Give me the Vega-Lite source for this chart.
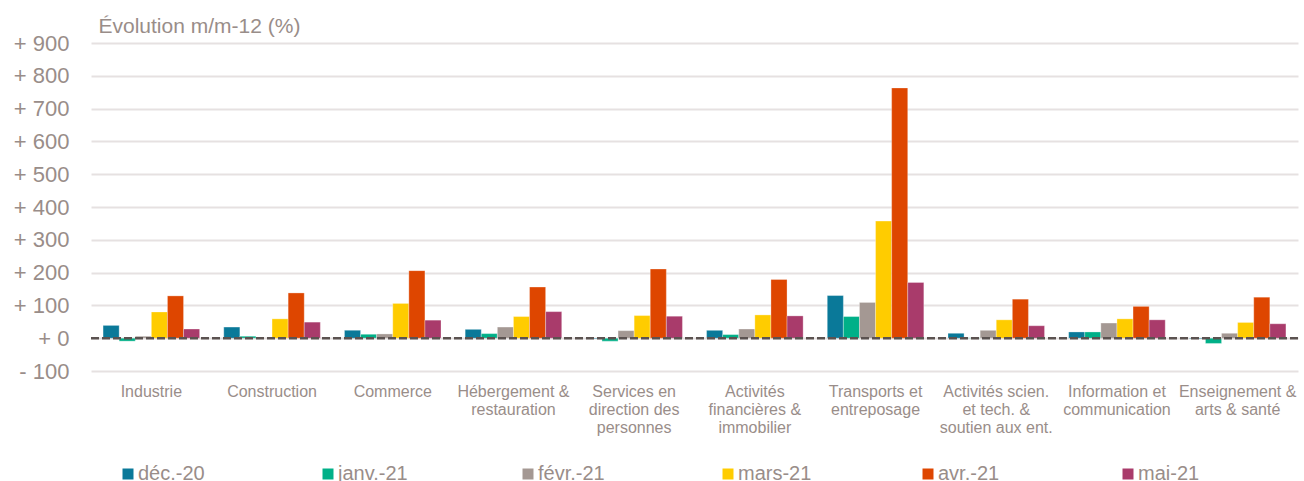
{
  "$schema": "https://vega.github.io/schema/vega-lite/v6.json",
  "width": 1207,
  "height": 328,
  "autosize": {"type": "none"},
  "padding": {"left": 91, "top": 43, "right": 6, "bottom": 110},
  "background": "#ffffff",
  "config": {
    "font": "Liberation Sans",
    "view": {"stroke": null}
  },
  "data": {
    "values": [
      {"secteur": "Industrie", "mois": "déc.-20", "valeur": 39},
      {"secteur": "Industrie", "mois": "janv.-21", "valeur": -9},
      {"secteur": "Industrie", "mois": "févr.-21", "valeur": 6},
      {"secteur": "Industrie", "mois": "mars-21", "valeur": 80},
      {"secteur": "Industrie", "mois": "avr.-21", "valeur": 129},
      {"secteur": "Industrie", "mois": "mai-21", "valeur": 28},
      {"secteur": "Construction", "mois": "déc.-20", "valeur": 34},
      {"secteur": "Construction", "mois": "janv.-21", "valeur": 6},
      {"secteur": "Construction", "mois": "févr.-21", "valeur": 1},
      {"secteur": "Construction", "mois": "mars-21", "valeur": 59},
      {"secteur": "Construction", "mois": "avr.-21", "valeur": 138},
      {"secteur": "Construction", "mois": "mai-21", "valeur": 49},
      {"secteur": "Commerce", "mois": "déc.-20", "valeur": 24},
      {"secteur": "Commerce", "mois": "janv.-21", "valeur": 12},
      {"secteur": "Commerce", "mois": "févr.-21", "valeur": 13},
      {"secteur": "Commerce", "mois": "mars-21", "valeur": 106},
      {"secteur": "Commerce", "mois": "avr.-21", "valeur": 206},
      {"secteur": "Commerce", "mois": "mai-21", "valeur": 55},
      {"secteur": "Hébergement & restauration", "mois": "déc.-20", "valeur": 27},
      {"secteur": "Hébergement & restauration", "mois": "janv.-21", "valeur": 14},
      {"secteur": "Hébergement & restauration", "mois": "févr.-21", "valeur": 34},
      {"secteur": "Hébergement & restauration", "mois": "mars-21", "valeur": 66},
      {"secteur": "Hébergement & restauration", "mois": "avr.-21", "valeur": 156},
      {"secteur": "Hébergement & restauration", "mois": "mai-21", "valeur": 81},
      {"secteur": "Services en direction des personnes", "mois": "déc.-20", "valeur": -2},
      {"secteur": "Services en direction des personnes", "mois": "janv.-21", "valeur": -9},
      {"secteur": "Services en direction des personnes", "mois": "févr.-21", "valeur": 23},
      {"secteur": "Services en direction des personnes", "mois": "mars-21", "valeur": 69},
      {"secteur": "Services en direction des personnes", "mois": "avr.-21", "valeur": 211},
      {"secteur": "Services en direction des personnes", "mois": "mai-21", "valeur": 67},
      {"secteur": "Activités financières & immobilier", "mois": "déc.-20", "valeur": 24},
      {"secteur": "Activités financières & immobilier", "mois": "janv.-21", "valeur": 11},
      {"secteur": "Activités financières & immobilier", "mois": "févr.-21", "valeur": 28},
      {"secteur": "Activités financières & immobilier", "mois": "mars-21", "valeur": 71},
      {"secteur": "Activités financières & immobilier", "mois": "avr.-21", "valeur": 179},
      {"secteur": "Activités financières & immobilier", "mois": "mai-21", "valeur": 68},
      {"secteur": "Transports et entreposage", "mois": "déc.-20", "valeur": 130},
      {"secteur": "Transports et entreposage", "mois": "janv.-21", "valeur": 66},
      {"secteur": "Transports et entreposage", "mois": "févr.-21", "valeur": 109},
      {"secteur": "Transports et entreposage", "mois": "mars-21", "valeur": 357},
      {"secteur": "Transports et entreposage", "mois": "avr.-21", "valeur": 763},
      {"secteur": "Transports et entreposage", "mois": "mai-21", "valeur": 170},
      {"secteur": "Activités scien. et tech. & soutien aux ent.", "mois": "déc.-20", "valeur": 15},
      {"secteur": "Activités scien. et tech. & soutien aux ent.", "mois": "janv.-21", "valeur": 1},
      {"secteur": "Activités scien. et tech. & soutien aux ent.", "mois": "févr.-21", "valeur": 24},
      {"secteur": "Activités scien. et tech. & soutien aux ent.", "mois": "mars-21", "valeur": 56},
      {"secteur": "Activités scien. et tech. & soutien aux ent.", "mois": "avr.-21", "valeur": 119},
      {"secteur": "Activités scien. et tech. & soutien aux ent.", "mois": "mai-21", "valeur": 38},
      {"secteur": "Information et communication", "mois": "déc.-20", "valeur": 19},
      {"secteur": "Information et communication", "mois": "janv.-21", "valeur": 19},
      {"secteur": "Information et communication", "mois": "févr.-21", "valeur": 46},
      {"secteur": "Information et communication", "mois": "mars-21", "valeur": 59},
      {"secteur": "Information et communication", "mois": "avr.-21", "valeur": 97},
      {"secteur": "Information et communication", "mois": "mai-21", "valeur": 56},
      {"secteur": "Enseignement & arts & santé", "mois": "déc.-20", "valeur": -2},
      {"secteur": "Enseignement & arts & santé", "mois": "janv.-21", "valeur": -16},
      {"secteur": "Enseignement & arts & santé", "mois": "févr.-21", "valeur": 15},
      {"secteur": "Enseignement & arts & santé", "mois": "mars-21", "valeur": 48},
      {"secteur": "Enseignement & arts & santé", "mois": "avr.-21", "valeur": 125},
      {"secteur": "Enseignement & arts & santé", "mois": "mai-21", "valeur": 44}
    ]
  },
  "encoding": {
    "y": {
      "field": "valeur",
      "type": "quantitative",
      "scale": {"domain": [-100, 900], "nice": false, "zero": true},
      "axis": {
        "title": "Évolution m/m-12 (%)",
        "titleAngle": 0,
        "titleX": 7,
        "titleY": -11,
        "titleAlign": "left",
        "titleBaseline": "alphabetic",
        "titleFontSize": 21,
        "titleFontWeight": "normal",
        "titleColor": "#998D89",
        "tickCount": 10,
        "labelExpr": "(datum.value >= 0 ? '+ ' : '- ') + abs(datum.value)",
        "labelFontSize": 22,
        "labelColor": "#998D89",
        "labelPadding": 22,
        "labelOverlap": false,
        "labelBound": false,
        "domain": false,
        "ticks": false,
        "grid": true,
        "gridColor": "#E6E1E1",
        "gridWidth": 2
      }
    }
  },
  "layer": [
    {
      "mark": {"type": "bar", "stroke": "#ffffff", "strokeWidth": 0.5, "strokeOpacity": 0.6},
      "encoding": {
        "x": {
          "field": "secteur",
          "type": "nominal",
          "sort": null,
          "scale": {"paddingInner": 0.2, "paddingOuter": 0.1},
          "axis": {
            "title": null,
            "domain": false,
            "ticks": false,
            "labelAngle": 0,
            "labelFontSize": 16,
            "labelColor": "#998D89",
            "labelPadding": 25,
            "labelBaseline": "alphabetic",
            "labelLineHeight": 18,
            "labelLimit": 0,
            "labelOverlap": false,
            "labelExpr": "datum.value == 'Hébergement & restauration' ? ['Hébergement &', 'restauration'] : datum.value == 'Services en direction des personnes' ? ['Services en', 'direction des', 'personnes'] : datum.value == 'Activités financières & immobilier' ? ['Activités', 'financières &', 'immobilier'] : datum.value == 'Transports et entreposage' ? ['Transports et', 'entreposage'] : datum.value == 'Activités scien. et tech. & soutien aux ent.' ? ['Activités scien.', 'et tech. &', 'soutien aux ent.'] : datum.value == 'Information et communication' ? ['Information et', 'communication'] : datum.value == 'Enseignement & arts & santé' ? ['Enseignement &', 'arts & santé'] : datum.value"
          }
        },
        "xOffset": {
          "field": "mois",
          "type": "nominal",
          "sort": ["déc.-20", "janv.-21", "févr.-21", "mars-21", "avr.-21", "mai-21"],
          "scale": {"paddingInner": 0, "paddingOuter": 0}
        },
        "color": {
          "field": "mois",
          "type": "nominal",
          "scale": {
            "domain": ["déc.-20", "janv.-21", "févr.-21", "mars-21", "avr.-21", "mai-21"],
            "range": ["#0A7999", "#00B088", "#A49893", "#FFCC00", "#DE4600", "#A93B6B"]
          },
          "legend": {
            "title": null,
            "orient": "none",
            "legendX": 27,
            "legendY": 421,
            "direction": "horizontal",
            "columns": 6,
            "gridAlign": "all",
            "columnPadding": 106,
            "symbolType": "square",
            "symbolSize": 121,
            "symbolStrokeWidth": 0,
            "labelFontSize": 20,
            "labelColor": "#998D89",
            "labelOffset": 0,
            "labelLimit": 0
          }
        }
      }
    },
    {
      "data": {"values": [{"valeur": 0}]},
      "mark": {"type": "rule", "color": "#5B5250", "strokeWidth": 2.5, "strokeDash": [8, 3]},
      "encoding": {}
    }
  ]
}
